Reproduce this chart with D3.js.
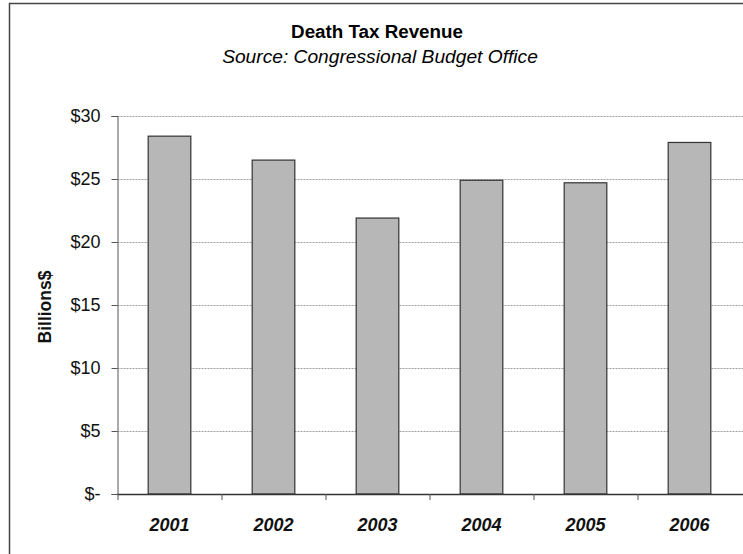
<!DOCTYPE html>
<html>
<head>
<meta charset="utf-8">
<script src="https://cdn.jsdelivr.net/npm/d3@7"></script>
<style>
  body { margin: 0; background: #fff; }
  svg { display: block; font-family: Arial, "Liberation Sans", sans-serif; }
</style>
</head>
<body>
<svg width="743" height="554"></svg>
<script>
// Chart data.
var years = ['2001', '2002', '2003', '2004', '2005', '2006'];
var revenue = [28.4, 26.5, 21.9, 24.9, 24.7, 27.9];
var yTicks = [0, 5, 10, 15, 20, 25, 30];

var svg = d3.select('svg');

// Outer chart frame, it runs off the right and bottom of the image.
svg.append('rect')
  .attr('x', 9.5).attr('y', 3.5)
  .attr('width', 800).attr('height', 600)
  .attr('fill', 'none')
  .attr('stroke', '#444')
  .attr('stroke-width', 1.5);

// Scales.
var x = d3.scaleBand()
  .domain(years)
  .range([117.5, 741.5])
  .paddingInner(0.59)
  .paddingOuter(0.295);

var y = d3.scaleLinear()
  .domain([0, 30])
  .range([494, 116]);

// Titles.
svg.append('text')
  .attr('x', 377).attr('y', 38)
  .attr('text-anchor', 'middle')
  .style('font-size', '18.8px')
  .style('font-weight', 'bold')
  .text('Death Tax Revenue');

svg.append('text')
  .attr('x', 380).attr('y', 63)
  .attr('text-anchor', 'middle')
  .style('font-size', '19.2px')
  .style('font-style', 'italic')
  .text('Source: Congressional Budget Office');

// Gridlines (dotted).
svg.append('g')
  .selectAll('line')
  .data(yTicks.filter(function(d) { return d > 0; }))
  .enter().append('line')
  .attr('x1', 117.5).attr('x2', 743)
  .attr('y1', function(d) { return Math.round(y(d)) + 0.5; })
  .attr('y2', function(d) { return Math.round(y(d)) + 0.5; })
  .attr('stroke', '#a0a0a0')
  .attr('stroke-dasharray', '2,1');

// Y axis.
var yAxis = svg.append('g')
  .attr('transform', 'translate(117.5,0)')
  .call(d3.axisLeft(y)
    .tickValues(yTicks)
    .tickSize(6)
    .tickPadding(11)
    .tickFormat(function(d) { return d === 0 ? '$-' : '$' + d; }));
yAxis.select('.domain').attr('stroke', '#555');
yAxis.selectAll('.tick line').attr('stroke', '#555');
yAxis.selectAll('text')
  .style('font-size', '18px')
  .attr('fill', '#111')
  .style('font-family', 'Arial, "Liberation Sans", sans-serif');

// Bars.
svg.append('g')
  .selectAll('rect')
  .data(years)
  .enter().append('rect')
  .attr('x', function(d) { return x(d); })
  .attr('y', function(d, i) { return y(revenue[i]); })
  .attr('width', x.bandwidth())
  .attr('height', function(d, i) { return y(0) - y(revenue[i]); })
  .attr('fill', '#b7b7b7')
  .attr('stroke', '#333')
  .attr('stroke-width', 1.2);

// X axis baseline with ticks between categories.
var xg = svg.append('g');
xg.append('line')
  .attr('x1', 117.5).attr('x2', 743)
  .attr('y1', y(0) + 0.5).attr('y2', y(0) + 0.5)
  .attr('stroke', '#333')
  .attr('stroke-width', 1.4);

xg.selectAll('.sep')
  .data(years)
  .enter().append('line')
  .attr('class', 'sep')
  .attr('x1', function(d) { return x(d) - x.step() * x.paddingOuter() + 0.5; })
  .attr('x2', function(d) { return x(d) - x.step() * x.paddingOuter() + 0.5; })
  .attr('y1', y(0)).attr('y2', y(0) + 6)
  .attr('stroke', '#555');

xg.selectAll('.lab')
  .data(years)
  .enter().append('text')
  .attr('class', 'lab')
  .attr('x', function(d) { return x(d) + x.bandwidth() / 2; })
  .attr('y', 531)
  .attr('text-anchor', 'middle')
  .style('font-size', '18px')
  .style('font-weight', 'bold')
  .style('font-style', 'italic')
  .attr('fill', '#111')
  .text(function(d) { return d; });

// Y axis title.
svg.append('text')
  .attr('transform', 'translate(51,307) rotate(-90)')
  .attr('text-anchor', 'middle')
  .style('font-size', '17.5px')
  .style('font-weight', 'bold')
  .attr('fill', '#111')
  .text('Billions$');
</script>
</body>
</html>
